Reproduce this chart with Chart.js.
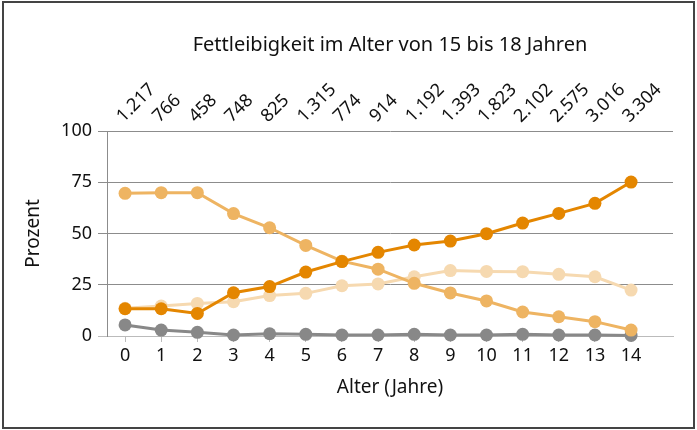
<!DOCTYPE html>
<html>
<head>
<meta charset="utf-8">
<script src="https://cdn.jsdelivr.net/npm/chart.js@4/dist/chart.umd.min.js"></script>
<style>
body{margin:0;background:#fff}
#marco{position:absolute;left:2px;top:1px;width:689px;height:424px;border:2px solid #444}
</style>
</head>
<body>
<div id="marco"><canvas id="grafico" width="689" height="424"></canvas></div>
<script>
// ---- DATOS ----
let edades = [0, 1, 2, 3, 4, 5, 6, 7, 8, 9, 10, 11, 12, 13, 14]
let fallzahlen = ['1.217', '766', '458', '748', '825', '1.315', '774', '914', '1.192', '1.393', '1.823', '2.102', '2.575', '3.016', '3.304']
let serieOscura = [13.3, 13.3, 11.0, 21.1, 24.1, 31.2, 36.3, 40.8, 44.4, 46.3, 49.9, 55.1, 59.8, 64.7, 75.1]
let serieMedia = [69.6, 69.9, 69.9, 59.7, 52.8, 44.2, 36.5, 32.6, 25.7, 21.0, 17.1, 11.7, 9.4, 7.0, 2.9]
let serieClara = [13.5, 14.6, 15.9, 16.7, 19.7, 20.8, 24.5, 25.4, 28.9, 31.9, 31.5, 31.4, 30.1, 28.9, 22.4]
let serieGris = [5.4, 2.9, 1.8, 0.5, 1.1, 0.8, 0.5, 0.5, 0.8, 0.5, 0.5, 0.8, 0.5, 0.5, 0.3]
let ticksY = [0, 25, 50, 75, 100]

const fuente = "'Noto Sans', sans-serif"

// ---- FUNCION PARA ARMAR CADA SERIE ----
function serie(data, color){
    return {
        data: data,
        borderColor: color,
        backgroundColor: color,
        pointBackgroundColor: color,
        pointBorderWidth: 0,
        pointRadius: 6.5,
        pointHoverRadius: 6.5,
        borderWidth: 3,
        tension: 0,
        clip: false
    }
}

// ---- TICKS FIJOS EN CADA EDAD ----
function ticksEdades(scale){
    scale.ticks = edades.map((v) => ({value: v}))
}

const config = {
    type: 'line',
    data: {
        labels: edades,
        datasets: [
            serie(serieOscura, '#e48600'),
            serie(serieMedia, '#eeb462'),
            serie(serieClara, '#f6d9b0'),
            serie(serieGris, '#888888')
        ]
    },
    options: {
        responsive: false,
        animation: false,
        events: [],
        layout: {padding: {left: 17, right: 20, top: 0, bottom: 21}},
        plugins: {
            legend: {display: false},
            tooltip: {enabled: false},
            title: {
                display: true,
                text: 'Fettleibigkeit im Alter von 15 bis 18 Jahren',
                fullSize: false,
                color: '#111',
                font: {family: fuente, size: 20, weight: 'normal'},
                padding: {top: 30, bottom: 0}
            }
        },
        scales: {
            x: {
                type: 'linear',
                position: 'bottom',
                min: -0.5,
                max: 15.16,
                afterBuildTicks: ticksEdades,
                afterFit: (scale) => { scale.height = 70 },
                grid: {display: true, drawOnChartArea: false, drawTicks: true, tickLength: 6, color: '#bbbbbb'},
                border: {display: true, color: '#bbbbbb'},
                ticks: {autoSkip: false, maxRotation: 0, padding: 3, color: '#111', font: {family: fuente, size: 18},
                    callback: (v) => String(v)},
                title: {display: true, text: 'Alter (Jahre)', color: '#111', font: {family: fuente, size: 19}, padding: {top: 0, bottom: 7.5}}
            },
            xArriba: {
                type: 'linear',
                position: 'top',
                min: -0.5,
                max: 15.16,
                afterBuildTicks: ticksEdades,
                afterFit: (scale) => { scale.height = 74 },
                grid: {display: false, drawTicks: false},
                border: {display: false},
                ticks: {autoSkip: false, minRotation: 45, maxRotation: 45, padding: 4, labelOffset: 10, color: '#111', font: {family: fuente, size: 18},
                    callback: (v) => fallzahlen[v]}
            },
            y: {
                min: 0,
                max: 100,
                afterBuildTicks: (scale) => { scale.ticks = ticksY.map((v) => ({value: v})) },
                afterFit: (scale) => { scale.width = 86 },
                grid: {
                    color: (ctx) => ctx.tick && ctx.tick.value === 0 ? '#bbbbbb' : '#8c8c8c',
                    tickLength: 9
                },
                border: {display: true, color: '#8c8c8c'},
                ticks: {padding: 6, color: '#111', font: {family: fuente, size: 18}},
                title: {display: true, text: 'Prozent', color: '#111', font: {family: fuente, size: 19}, padding: {top: 1, bottom: 0}}
            }
        }
    }
}

new Chart(document.querySelector('#grafico'), config)
</script>
</body>
</html>
